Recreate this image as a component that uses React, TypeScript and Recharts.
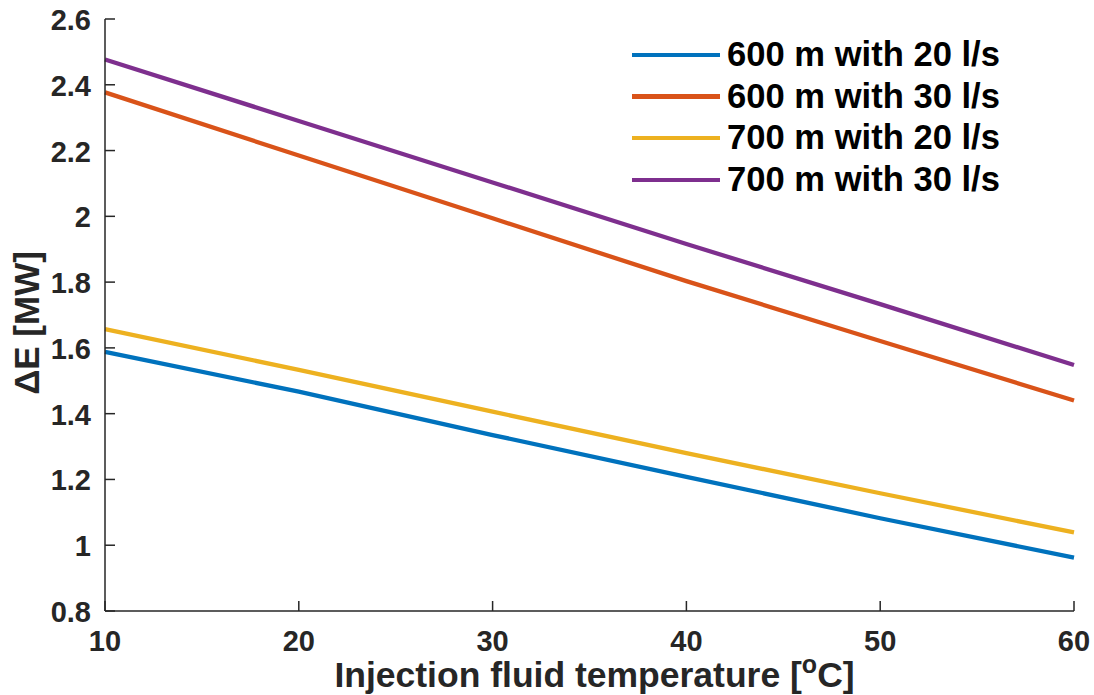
import React from 'react';
import { LineChart, Line, XAxis, YAxis } from 'recharts';

const temperatures = [10, 20, 30, 40, 50, 60];
const s600_20 = [1.588, 1.467, 1.335, 1.208, 1.082, 0.962];
const s600_30 = [2.377, 2.185, 1.994, 1.803, 1.621, 1.44];
const s700_20 = [1.657, 1.533, 1.406, 1.28, 1.158, 1.039];
const s700_30 = [2.477, 2.29, 2.103, 1.916, 1.733, 1.548];

const seriesNames = ['600 m with 20 l/s', '600 m with 30 l/s', '700 m with 20 l/s', '700 m with 30 l/s'];
const seriesKeys = ['a', 'b', 'c', 'd'];
const seriesColors = ['#0072BD', '#D95319', '#EDB120', '#7E2F8E'];
const seriesValues = [s600_20, s600_30, s700_20, s700_30];

const xTicks = [10, 20, 30, 40, 50, 60];
const yTicks = [0.8, 1, 1.2, 1.4, 1.6, 1.8, 2, 2.2, 2.4, 2.6];

const data = temperatures.map((t, i) => {
  const row: any = { t };
  seriesKeys.forEach((k, j) => {
    row[k] = seriesValues[j][i];
  });
  return row;
});

const FONT = '"Liberation Sans", Arial, Helvetica, sans-serif';
const AXIS = '#262626';
const TICK_LEN = 10;

const BottomTick = (props: any) => {
  const { x, y, payload } = props;
  return (
    <g>
      <line x1={x} y1={y} x2={x} y2={y - TICK_LEN} stroke={AXIS} strokeWidth={1.5} />
      <text x={x} y={y + 30} textAnchor="middle" dominantBaseline="central" fontFamily={FONT} fontWeight="bold" fontSize={29} fill={AXIS}>
        {payload.value}
      </text>
    </g>
  );
};

const TopTick = (props: any) => {
  const { x, y } = props;
  return <line x1={x} y1={y} x2={x} y2={y + TICK_LEN} stroke={AXIS} strokeWidth={1.5} />;
};

const LeftTick = (props: any) => {
  const { x, y, payload } = props;
  return (
    <g>
      <line x1={x} y1={y} x2={x + TICK_LEN} y2={y} stroke={AXIS} strokeWidth={1.5} />
      <text x={x - 14} y={y + 1} textAnchor="end" dominantBaseline="central" fontFamily={FONT} fontWeight="bold" fontSize={29} fill={AXIS}>
        {payload.value}
      </text>
    </g>
  );
};

const RightTick = (props: any) => {
  const { x, y } = props;
  return <line x1={x} y1={y} x2={x - TICK_LEN} y2={y} stroke={AXIS} strokeWidth={1.5} />;
};

const XLabel = (props: any) => {
  const vb = props.viewBox || {};
  const cx = vb.x + vb.width / 2 + 5;
  const by = vb.y + 76;
  return (
    <text x={cx} y={by} textAnchor="middle" fontFamily={FONT} fontWeight="bold" fontSize={35.5} fill={AXIS}>
      <tspan>Injection fluid temperature [</tspan>
      <tspan dy={-14} fontSize={25}>o</tspan>
      <tspan dy={14}>C]</tspan>
    </text>
  );
};

const YLabel = (props: any) => {
  const vb = props.viewBox || {};
  const x = 39;
  const cy = vb.y + vb.height / 2 + 8;
  return (
    <text x={x} y={cy} transform={`rotate(-90, ${x}, ${cy})`} textAnchor="middle" fontFamily={FONT} fontWeight="bold" fontSize={35} fill={AXIS}>
      ΔE [MW]
    </text>
  );
};

export default function App() {
  return (
    <div style={{ position: 'absolute', left: 0, top: 0, width: 1094, height: 695, background: '#fff' }}>
      <LineChart width={1094} height={695} data={data} margin={{ top: 19, right: 20, left: 0, bottom: 0 }}>
        <XAxis
          xAxisId="bottom"
          dataKey="t"
          type="number"
          domain={[10, 60]}
          ticks={xTicks}
          height={84}
          tickSize={0}
          tickMargin={0}
          tickLine={false}
          axisLine={{ stroke: AXIS, strokeWidth: 1.5 }}
          tick={<BottomTick />}
          interval={0}
          label={<XLabel />}
        />
        <XAxis
          xAxisId="top"
          orientation="top"
          dataKey="t"
          type="number"
          domain={[10, 60]}
          ticks={xTicks}
          height={0}
          tickSize={0}
          tickMargin={0}
          tickLine={false}
          axisLine={{ stroke: AXIS, strokeWidth: 1.5 }}
          tick={<TopTick />}
          interval={0}
        />
        <YAxis
          yAxisId="left"
          type="number"
          domain={[0.8, 2.6]}
          ticks={yTicks}
          width={105}
          tickSize={0}
          tickMargin={0}
          tickLine={false}
          axisLine={{ stroke: AXIS, strokeWidth: 1.5 }}
          tick={<LeftTick />}
          interval={0}
          label={<YLabel />}
        />
        <YAxis
          yAxisId="right"
          orientation="right"
          type="number"
          domain={[0.8, 2.6]}
          ticks={yTicks}
          width={0}
          tickSize={0}
          tickMargin={0}
          tickLine={false}
          axisLine={{ stroke: AXIS, strokeWidth: 1.5 }}
          tick={<RightTick />}
          interval={0}
        />
        {seriesKeys.map((k, j) => (
          <Line
            key={k}
            xAxisId="bottom"
            yAxisId="left"
            type="linear"
            dataKey={k}
            name={seriesNames[j]}
            stroke={seriesColors[j]}
            strokeWidth={4.3}
            dot={false}
            activeDot={false}
            isAnimationActive={false}
          />
        ))}
      </LineChart>
      <div style={{ position: 'absolute', left: 632, top: 34, fontFamily: FONT, fontWeight: 'bold', fontSize: 34.6, color: '#000' }}>
        {seriesNames.map((n, j) => (
          <div key={n} style={{ display: 'flex', alignItems: 'center', height: 41.7, whiteSpace: 'nowrap' }}>
            <div style={{ width: 88, height: 4.3, background: seriesColors[j], marginRight: 7 }} />
            <span style={{ lineHeight: '41.7px' }}>{n}</span>
          </div>
        ))}
      </div>
    </div>
  );
}
